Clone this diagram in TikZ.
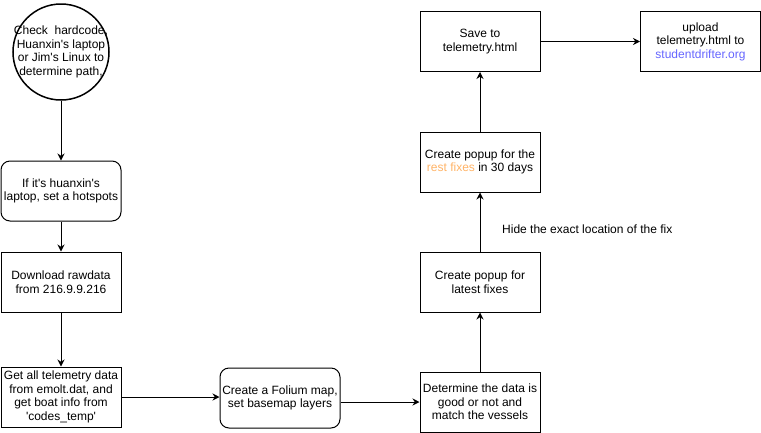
\documentclass[tikz,border=0pt]{standalone}
\usepackage{fontspec}
\newfontfamily\dio{Liberation Sans}
\usetikzlibrary{arrows.meta}
\definecolor{linkblue}{RGB}{102,102,255}
\definecolor{restorange}{RGB}{255,179,102}
\begin{document}
\begin{tikzpicture}[x=1pt,y=-1pt,
  every node/.style={font=\dio\fontsize{12}{13.5}\selectfont, align=center, inner sep=0pt},
  box/.style={draw, line width=1pt, minimum width=120pt, minimum height=60pt},
  rbox/.style={box, rounded corners=9pt},
  flow/.style={line width=1pt, -{Stealth[length=7pt,width=7pt]}}]
\useasboundingbox (0,0) rectangle (761,432);

% start: circle with its text
\node[circle, draw, line width=1.5pt, minimum size=96pt] (start) at (61,52) {};
\node (starttext) at (start.center) {Check\ \ hardcode,\\Huanxin's laptop\\or Jim's Linux to\\determine path,};

% left column
\node[rbox] (hotspot) at (61,191) {If it's huanxin's\\laptop, set a hotspots};
\node[box] (download) at (61,282) {Download rawdata\\from 216.9.9.216};
\node[box] (getall) at (61,397) {Get all telemetry data\\from emolt.dat, and\\get boat info from\\'codes\_temp'};

% bottom row
\node[rbox] (folium) at (280,398) {Create a Folium map,\\set basemap layers};
\node[box] (determine) at (480,402) {Determine the data is\\good or not and\\match the vessels};

% right column
\node[box] (latest) at (480,282) {Create popup for\\latest fixes};
\node[box] (rest) at (480,162) {Create popup for the\\\textcolor{restorange}{rest fixes} in 30 days};
\node[box] (save) at (480,41.5) {Save to\\telemetry.html};
\node[box] (upload) at (700.5,41.5) {upload\\telemetry.html to\\\textcolor{linkblue}{studentdrifter.org}};

% connectors
\draw[flow] (start.south) -- (hotspot.north);
\draw[flow] (hotspot.south) -- (download.north);
\draw[flow] (download.south) -- (getall.north);
\draw[flow] (getall.east) -- (folium.west |- getall.east);
\draw[flow] (folium.east |- determine.west) -- (determine.west);
\draw[flow] (determine.north) -- (latest.south);
\draw[flow] (latest.north) -- (rest.south);
\draw[flow] (rest.north) -- (save.south);
\draw[flow] (save.east) -- (upload.west);

\node[anchor=west] (hidenote) at (502,229) {Hide the exact location of the fix};
\end{tikzpicture}
\end{document}
